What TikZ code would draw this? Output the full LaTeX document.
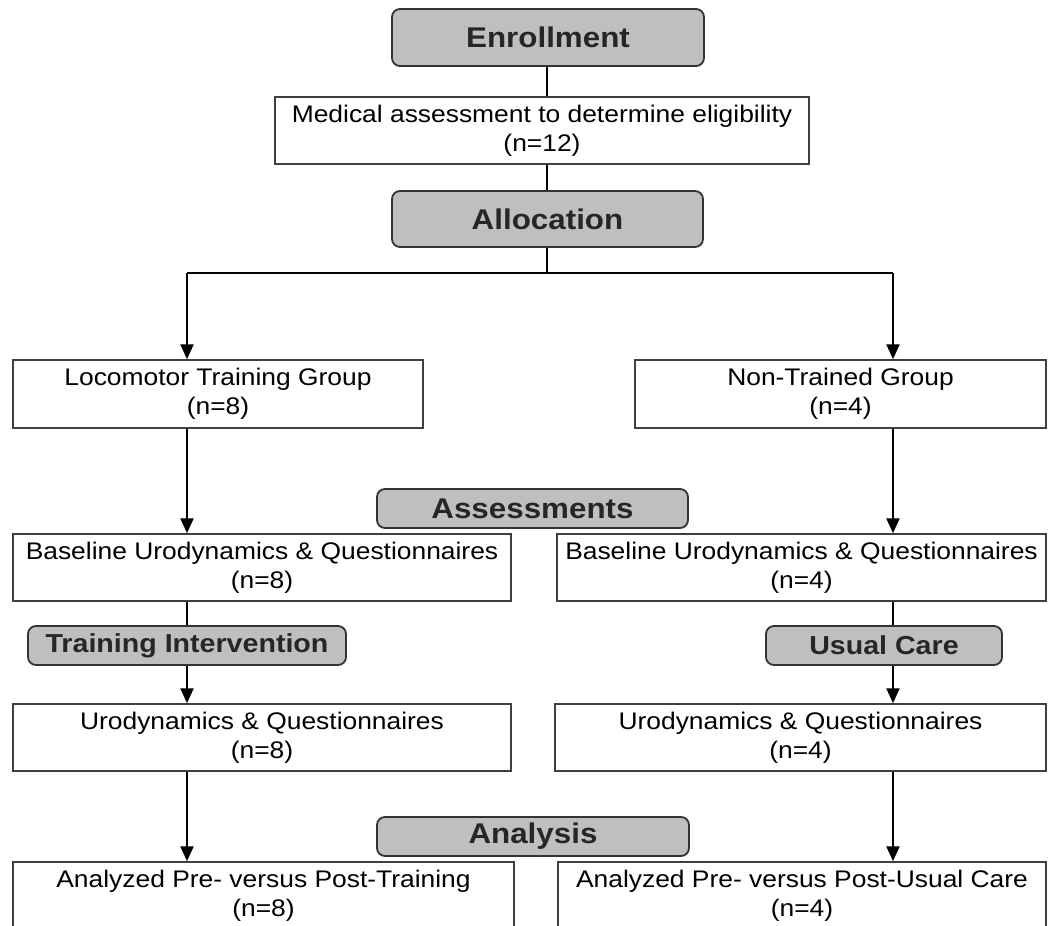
\documentclass[tikz,border=0pt]{standalone}
\usepackage{fontspec}
\setmainfont{Liberation Sans}[FakeStretch=1.1]
\usetikzlibrary{arrows.meta,positioning}

\begin{document}
\begin{tikzpicture}[x=1pt,y=-1pt,
    box/.style={draw=black!75,line width=1.5pt,fill=white,align=center,inner sep=0pt,
      minimum height=67pt,font=\fontsize{24}{29}\selectfont},
    phase/.style={draw=black!80,line width=1.8pt,fill=gray!50,rounded corners=8pt,inner sep=0pt,
      text=black!85,font=\bfseries\fontsize{28.5}{34}\selectfont},
    subphase/.style={phase,font=\bfseries\fontsize{26}{31}\selectfont},
    link/.style={line width=2.4pt},
    arr/.style={link,-{Triangle[length=15pt,width=13pt]}}]
    \useasboundingbox (0,0) rectangle (1058,926);
    % top part
    \node[phase,minimum width=312pt,minimum height=57pt](enroll) at (548,37.5){Enrollment};
    \node[box,minimum width=534pt](medical) at (542,130.5){Medical assessment to determine eligibility\\(n=12)};
    \node[phase,minimum width=311pt,minimum height=56pt](alloc) at (547.5,219){Allocation};
    \coordinate (split) at (547,273);
    \coordinate (lsplit) at (187,273);
    \coordinate (rsplit) at (893,273);
    % the two groups
    \node[box,minimum width=410pt,minimum height=68pt](loco) at (218,394){Locomotor Training Group\\(n=8)};
    \node[box,minimum width=411pt,minimum height=68pt](nontr) at (840.5,394){Non-Trained Group\\(n=4)};
    \node[phase,minimum width=311pt,minimum height=39pt](assess) at (532.5,508.5){Assessments};
    \node[box,minimum width=498pt](baseL) at (262,567.5){Baseline Urodynamics \& Questionnaires\\(n=8)};
    \node[box,minimum width=489pt](baseR) at (801.5,567.5){Baseline Urodynamics \& Questionnaires\\(n=4)};
    \node[subphase,minimum width=318pt,minimum height=39pt](train) at (187,645.5){Training Intervention};
    \node[subphase,minimum width=236pt,minimum height=39pt](usual) at (884,645.5){Usual Care};
    \node[box,minimum width=498pt](uroL) at (262,737.5){Urodynamics \& Questionnaires\\(n=8)};
    \node[box,minimum width=491pt](uroR) at (800.5,737.5){Urodynamics \& Questionnaires\\(n=4)};
    \node[phase,minimum width=312pt,minimum height=39pt](analysis) at (533,836.5){Analysis};
    \node[box,minimum width=501pt](anaL) at (263.5,895.5){Analyzed Pre- versus Post-Training\\(n=8)};
    \node[box,minimum width=488pt](anaR) at (802,895.5){Analyzed Pre- versus Post-Usual Care\\(n=4)};
    % connectors
    \draw[link](split|-enroll.south)--(split|-medical.north);
    \draw[link](split|-medical.south)--(split|-alloc.north);
    \draw[link](split|-alloc.south)--(split);
    \draw[link](lsplit)--(rsplit);
    \draw[arr](lsplit)--(lsplit|-loco.north);
    \draw[arr](rsplit)--(rsplit|-nontr.north);
    \draw[arr](lsplit|-loco.south)--(lsplit|-baseL.north);
    \draw[arr](rsplit|-nontr.south)--(rsplit|-baseR.north);
    \draw[link](lsplit|-baseL.south)--(lsplit|-train.north);
    \draw[link](rsplit|-baseR.south)--(rsplit|-usual.north);
    \draw[arr](lsplit|-train.south)--(lsplit|-uroL.north);
    \draw[arr](rsplit|-usual.south)--(rsplit|-uroR.north);
    \draw[arr](lsplit|-uroL.south)--(lsplit|-anaL.north);
    \draw[arr](rsplit|-uroR.south)--(rsplit|-anaR.north);
\end{tikzpicture}
\end{document}
